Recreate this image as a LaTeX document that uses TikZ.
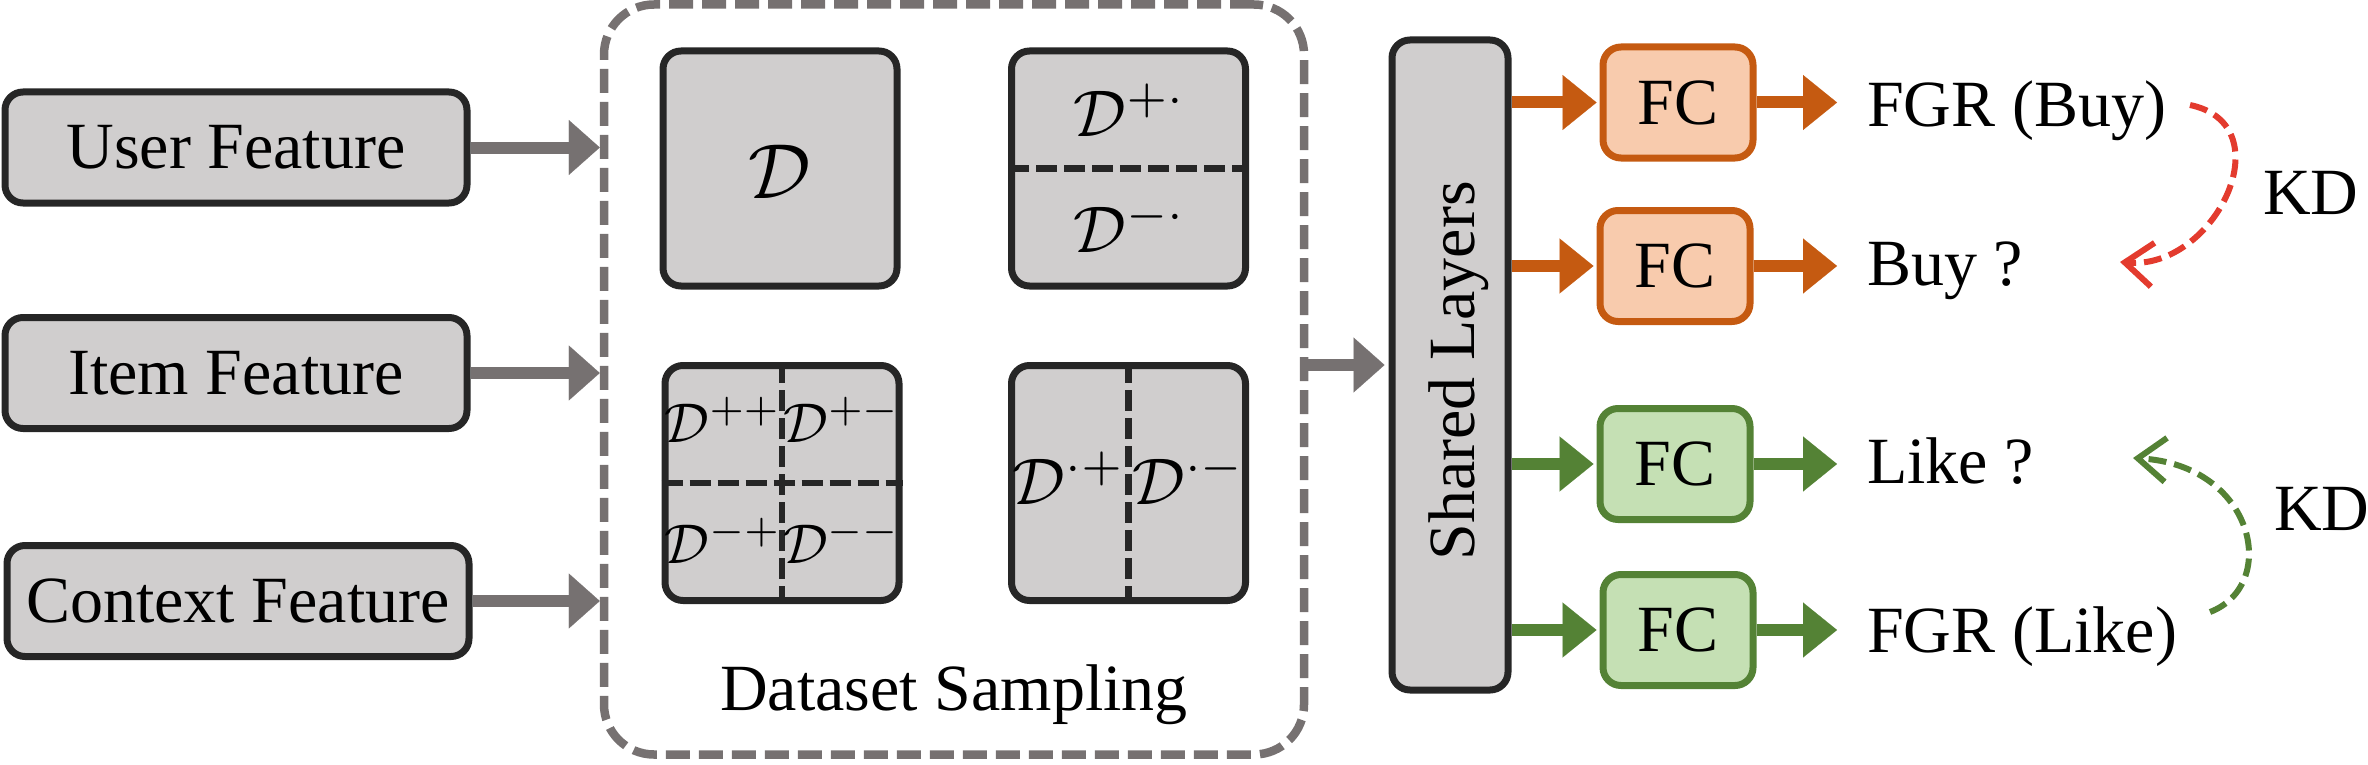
\documentclass[tikz,border=0pt]{standalone}
\usepackage{graphicx}
\usepackage{fontspec}
\setmainfont{Liberation Serif}
\usetikzlibrary{arrows.meta}
\definecolor{boxfill}{HTML}{D0CECE}
\definecolor{boxdraw}{HTML}{262626}
\definecolor{arrgray}{HTML}{767171}
\definecolor{orfill}{HTML}{F8CBAD}
\definecolor{ordraw}{HTML}{C55A11}
\definecolor{grfill}{HTML}{C5E0B4}
\definecolor{grdraw}{HTML}{548235}
\definecolor{kdred}{HTML}{E33B2E}
\newcommand{\bigD}[1]{\scalebox{7.8}{$#1$}}
\newcommand{\midD}[1]{\scalebox{6.6}{$#1$}}
\newcommand{\smallD}[1]{\scalebox{5.6}{$#1$}}
\begin{document}
\begin{tikzpicture}[x=1pt,y=-1pt,
  txt/.style={font=\fontsize{66}{70}\selectfont, inner sep=0pt},
  darkbox/.style={draw=boxdraw, fill=boxfill, line width=7pt, rounded corners=18pt, inner sep=0pt,
    font=\fontsize{66}{70}\selectfont},
  dsbox/.style={darkbox, minimum width=234pt, minimum height=235pt},
  fcor/.style={draw=ordraw, fill=orfill, line width=7pt, rounded corners=18pt, inner sep=0pt,
    minimum width=150pt, minimum height=111pt, font=\fontsize{66}{70}\selectfont},
  fcgr/.style={fcor, draw=grdraw, fill=grfill},
  container/.style={draw=arrgray, line width=8.5pt, dash pattern=on 24pt off 9pt, rounded corners=50pt},
  divider/.style={draw=boxdraw, line width=6.5pt, dash pattern=on 21pt off 7pt},
  garrow/.style={draw=arrgray, line width=12pt, -{Triangle[length=31pt,width=55pt,line width=0.1pt]}},
  oarrow/.style={draw=ordraw, line width=12pt, -{Triangle[length=34pt,width=55pt,line width=0.1pt]}},
  grarrow/.style={oarrow, draw=grdraw},
  kdarc/.style={line width=6pt, dash pattern=on 18pt off 8pt, -{Straight Barb[length=28pt,width=44pt,line width=6pt]}},
  mathnode/.style={inner sep=0pt}
]
\useasboundingbox (0,0) rectangle (2368,765);

% feature boxes
\node[darkbox, minimum width=462pt, minimum height=111pt] (user) at (236,147.5) {User Feature};
\node[darkbox, minimum width=462pt, minimum height=111pt] (item) at (236,373) {Item Feature};
\node[darkbox, minimum width=462pt, minimum height=111pt] (ctx) at (238,601) {Context Feature};

% dataset sampling container
\node[container, minimum width=700pt, minimum height=750pt] (ds) at (954,379.5) {};
\node[txt, anchor=base] (dstitle) at (954,710) {Dataset Sampling};

% dataset boxes
\node[dsbox] (d0) at (780,168.5) {};
\node[mathnode] (d0l) at (780,172) {\bigD{\mathcal{D}}};

\node[dsbox] (dpm) at (1128.5,168.5) {};
\draw[divider] (dpm.west) -- (dpm.east);
\node[mathnode] (dpl) at (1130,110) {\midD{\mathcal{D}^{+\cdot}}};
\node[mathnode] (dml) at (1130,226) {\midD{\mathcal{D}^{-\cdot}}};

\node[dsbox] (dq) at (782,483) {};
\draw[divider] (dq.north) -- (dq.south);
\draw[divider] (dq.west) -- (dq.east);
\node[mathnode] (dq1) at (723,420) {\smallD{\mathcal{D}^{++}}};
\node[mathnode] (dq2) at (842,420) {\smallD{\mathcal{D}^{+-}}};
\node[mathnode] (dq3) at (723,541) {\smallD{\mathcal{D}^{-+}}};
\node[mathnode] (dq4) at (842,541) {\smallD{\mathcal{D}^{--}}};

\node[dsbox] (dc) at (1128.5,483) {};
\draw[divider] (dc.north) -- (dc.south);
\node[mathnode] (dc1) at (1069,478) {\midD{\mathcal{D}^{\cdot+}}};
\node[mathnode] (dc2) at (1189,478) {\midD{\mathcal{D}^{\cdot-}}};

% arrows into container
\draw[garrow] (user.east) -- (user.east -| ds.west);
\draw[garrow] (item.east) -- (item.east -| ds.west);
\draw[garrow] (ctx.east) -- (ctx.east -| ds.west);

% shared layers
\node[darkbox, minimum width=116pt, minimum height=650pt] (shared) at (1450,365) {};
\node[txt, rotate=90, text depth=0pt] (sharedl) at (1452,371) {Shared Layers};
\draw[garrow, shorten >=4pt] (ds.east |- shared.west) -- (shared.west);

% FC boxes
\node[fcor] (fc1) at (1678,102.5) {FC};
\node[fcor] (fc2) at (1675,266) {FC};
\node[fcgr] (fc3) at (1675,464) {FC};
\node[fcgr] (fc4) at (1678,630) {FC};

\draw[oarrow, shorten >=3pt] (shared.east |- fc1.west) -- (fc1.west);
\draw[oarrow, shorten >=3pt] (shared.east |- fc2.west) -- (fc2.west);
\draw[grarrow, shorten >=3pt] (shared.east |- fc3.west) -- (fc3.west);
\draw[grarrow, shorten >=3pt] (shared.east |- fc4.west) -- (fc4.west);

% outputs
\node[txt, anchor=base west] (fgrbuy) at (1867,127) {FGR (Buy)};
\node[txt, anchor=base west] (buyq) at (1867,285) {Buy ?};
\node[txt, anchor=base west] (likeq) at (1867,483) {Like ?};
\node[txt, anchor=base west] (fgrlike) at (1867,652) {FGR (Like)};

\draw[oarrow, shorten >=30pt] (fc1.east) -- (fc1.east -| fgrbuy.west);
\draw[oarrow, shorten >=30pt] (fc2.east) -- (fc2.east -| buyq.west);
\draw[grarrow, shorten >=30pt] (fc3.east) -- (fc3.east -| likeq.west);
\draw[grarrow, shorten >=30pt] (fc4.east) -- (fc4.east -| fgrlike.west);

% KD arcs
\coordinate (kd1s) at (2190,105);
\coordinate (kd1e) at (2120,262);
\coordinate (kd2s) at (2210,612);
\coordinate (kd2e) at (2133,458);
\draw[kdarc, kdred] (kd1s) .. controls (2285,125) and (2215,270) .. (kd1e);
\draw[kdarc, grdraw] (kd2s) .. controls (2280,585) and (2255,465) .. (kd2e);
\node[txt, anchor=base west] (kd1) at (2263,214) {KD};
\node[txt, anchor=base west] (kd2) at (2274,530) {KD};
\end{tikzpicture}
\end{document}
